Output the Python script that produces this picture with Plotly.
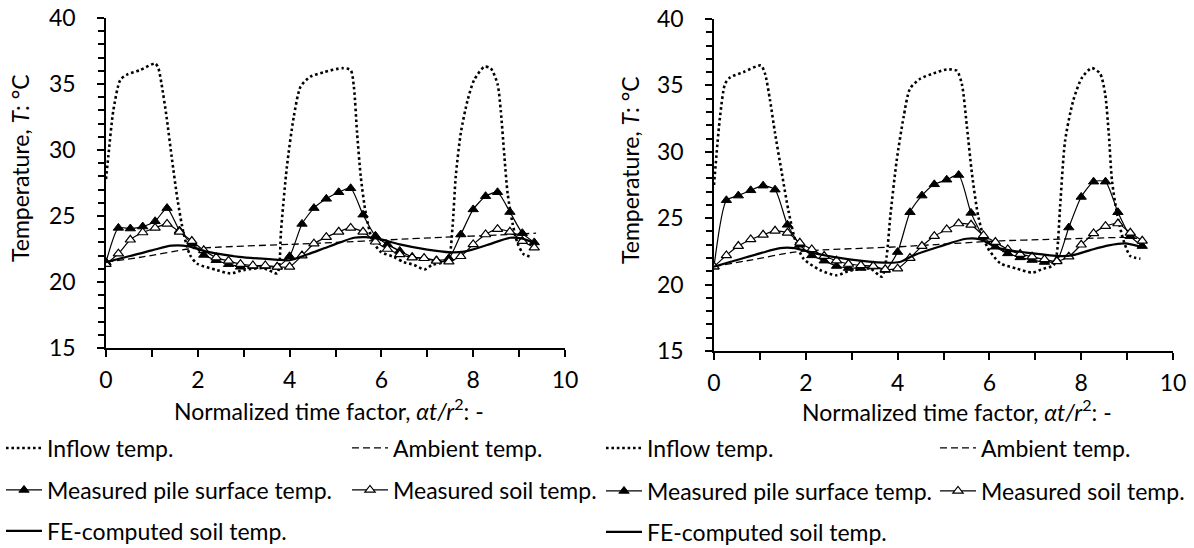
import plotly.graph_objects as go

# ---------------- data ----------------
x_meas = [0, 0.27, 0.53, 0.8, 1.07, 1.33, 1.6, 1.87, 2.13, 2.4, 2.67, 2.93, 3.2, 3.47, 3.73, 4.0,
          4.27, 4.53, 4.8, 5.07, 5.33, 5.6, 5.87, 6.13, 6.4, 6.67, 6.93, 7.2, 7.47, 7.73, 8.0,
          8.27, 8.53, 8.8, 9.07, 9.33]

# left chart
L_pile = [21.5, 24.1, 24.05, 24.2, 24.6, 25.6, 23.9, 22.9, 22.05, 21.65, 21.35, 21.15, 21.2, 21.2,
          21.15, 21.95, 24.4, 25.6, 26.3, 26.8, 27.1, 25.1, 23.5, 22.85, 22.35, 21.9, 21.8, 21.65,
          21.8, 23.6, 25.5, 26.5, 26.8, 25.3, 23.7, 23.0]
L_soil = [21.35, 22.15, 23.2, 23.75, 24.1, 24.4, 23.8, 23.1, 22.4, 21.85, 21.6, 21.35, 21.25, 21.25,
          21.15, 21.15, 22.0, 22.9, 23.4, 23.8, 24.1, 23.8, 23.05, 22.5, 22.1, 21.85, 21.8, 21.6,
          21.55, 21.95, 22.85, 23.6, 24.0, 23.8, 23.1, 22.6]
L_fe_x = [0, 0.5, 1.0, 1.43, 1.8, 2.2, 2.9, 3.7, 4.0, 4.4, 4.75, 5.1, 5.4, 5.65, 5.9, 6.4, 7.0, 7.5,
          7.8, 8.3, 8.8, 9.05, 9.37]
L_fe_y = [21.5, 21.95, 22.4, 22.75, 22.7, 22.3, 21.9, 21.7, 21.65, 22.1, 22.55, 23.0, 23.35, 23.4,
          23.3, 22.85, 22.45, 22.25, 22.3, 22.8, 23.35, 23.3, 22.9]
L_amb_x = [0, 0.8, 1.8, 2.5, 4.0, 5.0, 6.2, 7.4, 8.5, 9.37]
L_amb_y = [21.5, 21.9, 22.5, 22.65, 22.85, 23.0, 23.2, 23.4, 23.55, 23.7]
L_in_x = [0, 0.05, 0.16, 0.31, 0.45, 0.74, 1.07, 1.14, 1.21, 1.32, 1.43, 1.56, 1.69, 1.83, 1.98,
          2.42, 2.71, 3.0, 3.43, 3.73, 3.78, 3.81, 3.94, 4.09, 4.24, 4.45, 4.75, 5.15, 5.33, 5.4,
          5.47, 5.55, 5.66, 5.8, 5.98, 6.27, 6.49, 6.71, 6.94, 7.11, 7.36, 7.47, 7.55, 7.62, 7.73,
          7.88, 8.02, 8.24, 8.38, 8.53, 8.6, 8.68, 8.75, 8.86, 8.97, 9.1, 9.26]
L_in_y = [27.8, 29.5, 33.0, 35.3, 35.7, 36.05, 36.55, 36.2, 35.0, 32.5, 29.5, 26.2, 23.7, 22.05,
          21.4, 20.9, 20.65, 20.9, 21.05, 20.65, 21.4, 23.7, 28.7, 32.5, 34.8, 35.55, 35.9, 36.2,
          36.05, 34.8, 31.3, 28.0, 25.2, 23.2, 22.3, 21.9, 21.5, 21.3, 20.95, 21.3, 21.5, 21.8,
          24.2, 28.0, 31.3, 33.8, 35.3, 36.3, 36.2, 35.0, 33.0, 29.5, 26.7, 24.4, 22.9, 22.1, 21.9]

# right chart
R_pile = [21.35, 26.35, 26.7, 27.1, 27.45, 27.15, 24.5, 23.0, 22.2, 21.8, 21.4, 21.25, 21.25, 21.35,
          21.1, 22.45, 25.45, 26.7, 27.55, 27.9, 28.25, 25.4, 23.6, 22.85, 22.35, 22.05, 21.85,
          21.7, 21.8, 24.3, 26.6, 27.75, 27.75, 25.45, 23.65, 22.9]
R_soil = [21.35, 22.2, 22.9, 23.4, 23.75, 24.05, 23.9, 23.15, 22.65, 22.15, 21.8, 21.55, 21.45, 21.4,
          21.15, 21.2, 22.0, 22.9, 23.65, 24.15, 24.6, 24.5, 23.7, 23.2, 22.65, 22.3, 22.1, 21.9,
          21.75, 22.1, 23.0, 23.85, 24.4, 24.6, 23.9, 23.3]
R_fe_x = [0, 0.5, 1.0, 1.44, 1.75, 2.2, 2.95, 3.7, 4.05, 4.35, 4.9, 5.5, 5.8, 6.2, 6.95, 7.55, 7.8,
          8.2, 8.6, 8.95, 9.3]
R_fe_y = [21.35, 21.85, 22.35, 22.75, 22.75, 22.35, 21.9, 21.65, 21.7, 22.2, 22.85, 23.45, 23.4,
          22.75, 22.35, 22.15, 22.2, 22.6, 22.95, 23.1, 22.85]
R_amb_x = [0, 0.8, 1.75, 2.3, 4.05, 5.0, 6.25, 7.3, 8.3, 8.9, 9.33]
R_amb_y = [21.35, 21.85, 22.45, 22.6, 22.85, 23.05, 23.3, 23.4, 23.5, 23.55, 23.45]
R_in_x = [0, 0.13, 0.24, 0.35, 0.64, 1.02, 1.11, 1.22, 1.33, 1.48, 1.62, 1.77, 1.95, 2.31, 2.67,
          2.96, 3.4, 3.66, 3.76, 3.84, 3.98, 4.13, 4.27, 4.49, 4.78, 5.07, 5.29, 5.4, 5.51, 5.62,
          5.76, 5.95, 6.24, 6.6, 6.93, 7.18, 7.4, 7.47, 7.54, 7.65, 7.83, 8.02, 8.23, 8.41, 8.52,
          8.6, 8.67, 8.78, 8.92, 9.07, 9.29]
R_in_y = [27.5, 32.6, 35.1, 35.6, 36.0, 36.5, 35.9, 33.9, 31.4, 28.35, 25.6, 23.35, 21.95, 21.1,
          20.7, 21.05, 21.2, 20.6, 22.1, 25.1, 29.35, 32.6, 34.75, 35.5, 35.9, 36.2, 36.1, 35.1,
          31.9, 28.35, 25.1, 22.85, 21.6, 21.2, 20.9, 21.2, 21.45, 22.35, 25.85, 30.85, 33.9,
          35.6, 36.3, 35.9, 34.4, 31.4, 27.85, 25.35, 23.35, 22.15, 21.95]

names = ["Inflow temp.", "Ambient temp.", "Measured pile surface temp.",
         "Measured soil temp.", "FE-computed soil temp."]
x_ticks = [0, 2, 4, 6, 8, 10]
y_ticks = [15, 20, 25, 30, 35, 40]
x_title = "Normalized time factor, <i>αt/r</i><sup>2</sup>: -"
y_title = "Temperature, <i>T</i>: °C"

FONT = "Lato"
FS = 23
W, H = 1194, 548

fig = go.Figure()

panels = [
    dict(ax="", inx=L_in_x, iny=L_in_y, ambx=L_amb_x, amby=L_amb_y, pile=L_pile, soil=L_soil,
         fex=L_fe_x, fey=L_fe_y, leg0=1),
    dict(ax="2", inx=R_in_x, iny=R_in_y, ambx=R_amb_x, amby=R_amb_y, pile=R_pile, soil=R_soil,
         fex=R_fe_x, fey=R_fe_y, leg0=6),
]

def legname(n):
    return "legend" if n == 1 else f"legend{n}"

for p in panels:
    xa, ya = "x" + p["ax"], "y" + p["ax"]
    l0 = p["leg0"]
    fig.add_trace(go.Scatter(x=p["inx"], y=p["iny"], mode="lines", name=names[0],
                             line=dict(color="black", width=2.6, dash="2.6px,2.8px",
                                       shape="spline", smoothing=0.7),
                             xaxis=xa, yaxis=ya, legend=legname(l0), showlegend=True))
    fig.add_trace(go.Scatter(x=p["ambx"], y=p["amby"], mode="lines", name=names[1],
                             line=dict(color="black", width=1.3, dash="7px,4px",
                                       shape="spline", smoothing=0.6),
                             xaxis=xa, yaxis=ya, legend=legname(l0 + 1), showlegend=True))
    fig.add_trace(go.Scatter(x=x_meas, y=p["pile"], mode="lines+markers", name=names[2],
                             line=dict(color="black", width=1.2, shape="spline", smoothing=0.6),
                             marker=dict(symbol="triangle-up", size=9, color="black",
                                         line=dict(color="black", width=1)),
                             xaxis=xa, yaxis=ya, legend=legname(l0 + 2), showlegend=True))
    fig.add_trace(go.Scatter(x=x_meas, y=p["soil"], mode="lines+markers", name=names[3],
                             line=dict(color="black", width=1.2, shape="spline", smoothing=0.6),
                             marker=dict(symbol="triangle-up", size=9, color="white",
                                         line=dict(color="black", width=1.2)),
                             xaxis=xa, yaxis=ya, legend=legname(l0 + 3), showlegend=True))
    fig.add_trace(go.Scatter(x=p["fex"], y=p["fey"], mode="lines", name=names[4],
                             line=dict(color="black", width=2.2, shape="spline", smoothing=0.8),
                             xaxis=xa, yaxis=ya, legend=legname(l0 + 4), showlegend=True))

axis_common = dict(showline=True, linecolor="black", linewidth=1.6, showgrid=False,
                   zeroline=False, ticks="outside", ticklen=7, tickwidth=1.5,
                   tickcolor="black", tickfont=dict(family=FONT, size=FS, color="black"),
                   automargin=False)

xcommon = dict(axis_common, range=[0, 10], tickvals=x_ticks,
               minor=dict(dtick=1, ticks="outside", ticklen=7, tickwidth=1.5,
                          tickcolor="black", showgrid=False),
               ticklabelstandoff=4)
ycommon = dict(axis_common, range=[15, 40], tickvals=y_ticks,
               minor=dict(dtick=1, ticks="outside", ticklen=6, tickwidth=1.5,
                          tickcolor="black", showgrid=False),
               ticklabelstandoff=17)

def px(v):
    return v / W

def py(v):
    return 1 - v / H

layout = dict(
    width=W, height=H, margin=dict(l=0, r=0, t=0, b=0, autoexpand=False),
    showlegend=True,
    paper_bgcolor="white", plot_bgcolor="white",
    font=dict(family=FONT, size=FS, color="black"),
    xaxis=dict(xcommon, domain=[px(106), px(565)], anchor="y"),
    yaxis=dict(ycommon, domain=[py(348), py(18)], anchor="x"),
    xaxis2=dict(xcommon, domain=[px(714), px(1173)], anchor="y2"),
    yaxis2=dict(ycommon, domain=[py(351), py(19)], anchor="x2"),
)

# legends: one per entry, arranged in 3 rows x 2 columns under each chart
leg_pos = {
    1: (1, 448), 2: (347, 448), 3: (1, 490), 4: (347, 490), 5: (1, 531),
    6: (601, 448), 7: (935, 448), 8: (601, 491), 9: (935, 491), 10: (601, 532),
}
for n, (lx, ly) in leg_pos.items():
    layout[legname(n)] = dict(x=px(lx), y=py(ly), xanchor="left", yanchor="middle",
                              orientation="h", bgcolor="rgba(0,0,0,0)", borderwidth=0,
                              itemwidth=36, font=dict(family=FONT, size=FS, color="black"))

annotations = [
    dict(text=y_title, x=px(20), y=py(168), xref="paper", yref="paper", textangle=-90,
         showarrow=False, xanchor="center", yanchor="middle"),
    dict(text=y_title, x=px(630), y=py(170), xref="paper", yref="paper", textangle=-90,
         showarrow=False, xanchor="center", yanchor="middle"),
    dict(text=x_title, x=px(329), y=py(409), xref="paper", yref="paper",
         showarrow=False, xanchor="center", yanchor="middle"),
    dict(text=x_title, x=px(957), y=py(410), xref="paper", yref="paper",
         showarrow=False, xanchor="center", yanchor="middle"),
]
layout["annotations"] = annotations
fig.update_layout(**layout)
fig.update_annotations(font=dict(family=FONT, size=FS, color="black"))

fig.write_html("out.html")
